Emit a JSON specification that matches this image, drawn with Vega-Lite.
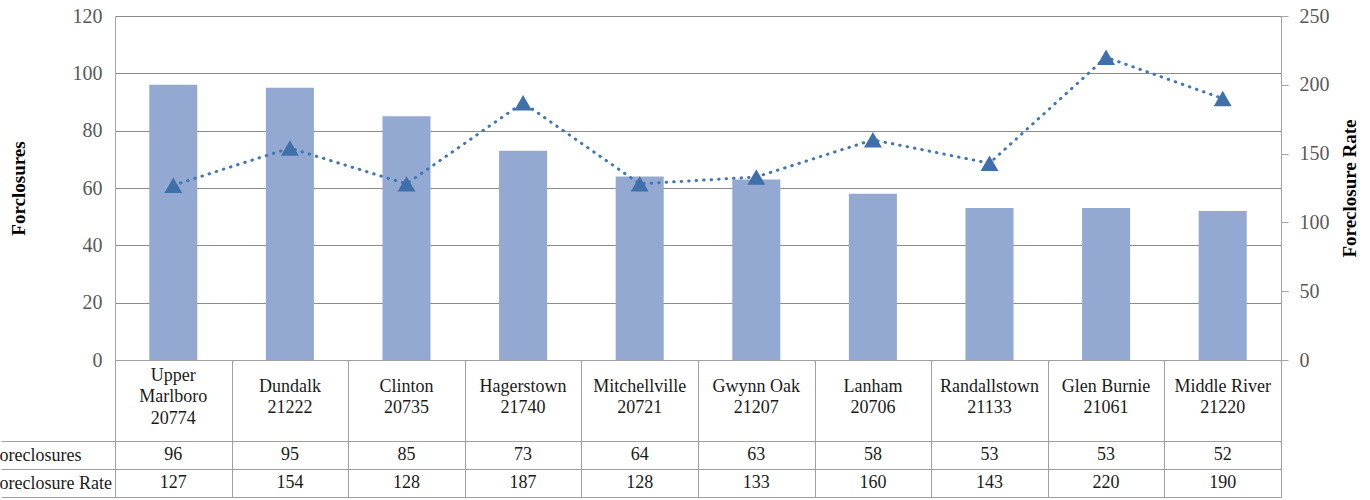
{
  "$schema": "https://vega.github.io/schema/vega-lite/v6.json",
  "background": "white",
  "padding": {"left": -12, "top": 6, "right": 5, "bottom": 0},
  "spacing": 0,
  "bounds": "flush",
  "config": {
    "view": {"stroke": null},
    "font": "Liberation Serif",
    "concat": {"spacing": 0}
  },
  "datasets": {
    "d": [
      {"place": "Upper Marlboro", "label": "Upper\nMarlboro\n20774", "foreclosures": 96, "rate": 127},
      {"place": "Dundalk", "label": "Dundalk\n21222", "foreclosures": 95, "rate": 154},
      {"place": "Clinton", "label": "Clinton\n20735", "foreclosures": 85, "rate": 128},
      {"place": "Hagerstown", "label": "Hagerstown\n21740", "foreclosures": 73, "rate": 187},
      {"place": "Mitchellville", "label": "Mitchellville\n20721", "foreclosures": 64, "rate": 128},
      {"place": "Gwynn Oak", "label": "Gwynn Oak\n21207", "foreclosures": 63, "rate": 133},
      {"place": "Lanham", "label": "Lanham\n20706", "foreclosures": 58, "rate": 160},
      {"place": "Randallstown", "label": "Randallstown\n21133", "foreclosures": 53, "rate": 143},
      {"place": "Glen Burnie", "label": "Glen Burnie\n21061", "foreclosures": 53, "rate": 220},
      {"place": "Middle River", "label": "Middle River\n21220", "foreclosures": 52, "rate": 190}
    ]
  },
  "vconcat": [
    {
      "width": 1166,
      "height": 344,
      "data": {"name": "d"},
      "encoding": {
        "x": {"field": "place", "type": "nominal", "sort": null, "scale": {"paddingInner": 0.588, "paddingOuter": 0.294}, "axis": null}
      },
      "layer": [
        {
          "mark": {"type": "bar", "color": "#94a9d1"},
          "encoding": {
            "y": {
              "field": "foreclosures", "type": "quantitative",
              "scale": {"domain": [0, 120], "nice": false},
              "axis": {
                "title": "Forclosures", "titleFontSize": 19, "titleFontWeight": "bold", "titleColor": "#000000",
                "titlePadding": 44, "values": [0, 20, 40, 60, 80, 100, 120], "grid": true, "gridColor": "#8c8c8c",
                "gridOpacity": 1, "ticks": false, "domainColor": "#a6a6a6", "labelPadding": 13, "labelFontSize": 20,
                "labelColor": "#595959", "labelFont": "Liberation Serif", "titleFont": "Liberation Serif"
              }
            }
          }
        },
        {
          "layer": [
            {
              "mark": {"type": "line", "color": "#4276b4", "strokeWidth": 3, "strokeDash": [0.5, 7], "strokeCap": "round"},
              "encoding": {
                "y": {
                  "field": "rate", "type": "quantitative",
                  "scale": {"domain": [0, 250], "nice": false},
                  "axis": {
                    "orient": "right", "title": "Foreclosure Rate", "titleAngle": 270, "titleFontSize": 19,
                    "titleFontWeight": "bold", "titleColor": "#000000", "titlePadding": 30,
                    "values": [0, 50, 100, 150, 200, 250], "grid": false, "tickSize": 7, "tickColor": "#a6a6a6",
                    "domainColor": "#a6a6a6", "labelPadding": 11, "labelFontSize": 20, "labelColor": "#595959",
                    "labelFont": "Liberation Serif", "titleFont": "Liberation Serif"
                  }
                }
              }
            },
            {
              "mark": {"type": "point", "shape": "triangle-up", "filled": true, "size": 320, "color": "#4070aa", "opacity": 1},
              "encoding": {
                "y": {"field": "rate", "type": "quantitative", "scale": {"domain": [0, 250], "nice": false}}
              }
            }
          ]
        }
      ],
      "resolve": {"scale": {"y": "independent"}}
    },
    {
      "width": 1166,
      "height": 81,
      "data": {"name": "d"},
      "view": {"stroke": "#a0a0a0"},
      "encoding": {
        "x": {
          "field": "place", "type": "nominal", "sort": null,
          "scale": {
            "domain": ["Upper Marlboro", "Dundalk", "Clinton", "Hagerstown", "Mitchellville", "Gwynn Oak", "Lanham", "Randallstown", "Glen Burnie", "Middle River"],
            "paddingInner": 0, "paddingOuter": 0
          },
          "axis": {"grid": true, "tickBand": "extent", "labels": false, "ticks": false, "domain": false, "title": null, "gridColor": "#a0a0a0", "gridOpacity": 1}
        },
        "text": {"field": "label"}
      },
      "layer": [
        {
          "transform": [{"filter": "length(split(datum.label, '\\n')) == 2"}],
          "mark": {"type": "text", "lineBreak": "\n", "fontSize": 18, "lineHeight": 21.5, "color": "#1a1a1a", "dy": -14, "font": "Liberation Serif"}
        },
        {
          "transform": [{"filter": "length(split(datum.label, '\\n')) != 2"}],
          "mark": {"type": "text", "lineBreak": "\n", "fontSize": 18, "lineHeight": 21.5, "color": "#1a1a1a", "dy": -25, "font": "Liberation Serif"}
        }
      ]
    },
    {
      "width": 1166,
      "height": 56,
      "data": {"name": "d"},
      "view": {"stroke": "#a0a0a0"},
      "transform": [{"fold": ["foreclosures", "rate"], "as": ["metric", "value"]}],
      "mark": {"type": "text", "fontSize": 18, "color": "#1a1a1a", "font": "Liberation Serif"},
      "encoding": {
        "x": {
          "field": "place", "type": "nominal", "sort": null,
          "scale": {"paddingInner": 0, "paddingOuter": 0},
          "axis": {"grid": true, "tickBand": "extent", "labels": false, "ticks": false, "domain": false, "title": null, "gridColor": "#a0a0a0", "gridOpacity": 1}
        },
        "y": {
          "field": "metric", "type": "nominal", "sort": ["foreclosures", "rate"],
          "scale": {"paddingInner": 0, "paddingOuter": 0},
          "axis": {
            "grid": true, "tickBand": "extent", "tickSize": 114, "tickColor": "#a0a0a0", "gridColor": "#a0a0a0", "gridOpacity": 1,
            "domain": false, "title": null, "labelAlign": "left", "labelPadding": 12, "labelFontSize": 18,
            "labelColor": "#1a1a1a", "labelFont": "Liberation Serif", "labelLimit": 300,
            "labelExpr": "datum.value == 'foreclosures' ? 'Foreclosures' : datum.value == 'rate' ? 'Foreclosure Rate' : ''"
          }
        },
        "text": {"field": "value"}
      }
    }
  ]
}
